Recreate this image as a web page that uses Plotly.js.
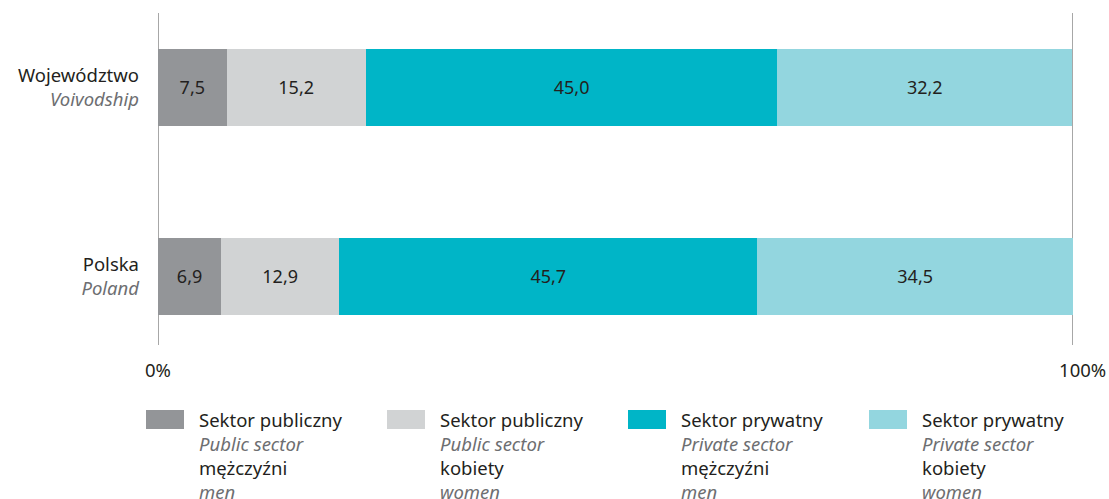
<!DOCTYPE html>
<html>
<head>
<meta charset="utf-8">
<script src="https://cdn.plot.ly/plotly-3.0.1.min.js"></script>
<style>
html,body{margin:0;padding:0;background:#fff;}
#chart{width:1109px;height:499px;}
</style>
</head>
<body>
<div id="chart"></div>
<script>
// ---- data ----
var categoriesPl = ['Polska', 'Województwo'];
var categoriesEn = ['Poland', 'Voivodship'];
var seriesPl = ['Sektor publiczny', 'Sektor publiczny', 'Sektor prywatny', 'Sektor prywatny'];
var seriesEn = ['Public sector', 'Public sector', 'Private sector', 'Private sector'];
var genderPl = ['mężczyźni', 'kobiety', 'mężczyźni', 'kobiety'];
var genderEn = ['men', 'women', 'men', 'women'];
var publicMen    = [6.9, 7.5];
var publicWomen  = [12.9, 15.2];
var privateMen   = [45.7, 45.0];
var privateWomen = [34.5, 32.2];
var xTickVals = [0, 100];
var xTickText = ['0%', '\u00a0\u00a0\u00a0\u00a0100%'];

var seriesValues = [publicMen, publicWomen, privateMen, privateWomen];
var colors = ['#939598', '#d1d3d4', '#00b5c7', '#93d6df'];
var textDark = '#231f20';
var textGrey = '#6d6e71';
var FONT = 'Noto Sans, Open Sans, sans-serif';
var FS = 18.5;

var yTickText = categoriesPl.map(function (c, i) {
  return c + '<br><i><span style="color:' + textGrey + '">' + categoriesEn[i] + '</span></i>';
});

var traces = seriesValues.map(function (vals, i) {
  return {
    type: 'bar',
    orientation: 'h',
    y: categoriesPl,
    x: vals,
    name: seriesPl[i] + ' ' + genderPl[i],
    marker: {color: colors[i], line: {width: 0}},
    width: 0.407,
    texttemplate: '%{x:.1f}',
    textposition: 'inside',
    insidetextanchor: 'middle',
    textfont: {family: FONT, size: 18, color: textDark},
    hoverinfo: 'skip',
    showlegend: false
  };
});

// plot area in pixels
var W = 1109, H = 499;
var L = 158, R = 1073, T = 13, B = 345;
function px(x) { return (x - L) / (R - L); }
function py(y) { return (B - y) / (B - T); }

var shapes = [], annotations = [];
// boundary lines at 0% and 100%
xTickVals.forEach(function (v) {
  shapes.push({
    type: 'line', xref: 'x', yref: 'paper', x0: v, x1: v, y0: 0, y1: 1,
    line: {color: '#8a8a8a', width: 1.5}, layer: 'below'
  });
});
var legendX0 = 146, legendStep = 241;
seriesPl.forEach(function (s, i) {
  var x0 = legendX0 + i * legendStep;
  shapes.push({
    type: 'rect', xref: 'paper', yref: 'paper',
    x0: px(x0), x1: px(x0 + 38), y0: py(410), y1: py(429),
    fillcolor: colors[i], line: {width: 0}, layer: 'above'
  });
  annotations.push({
    xref: 'paper', yref: 'paper', x: px(x0 + 51), y: py(405),
    xanchor: 'left', yanchor: 'top', align: 'left', showarrow: false,
    font: {family: FONT, size: FS, color: textDark},
    text: s + '<br><i><span style="color:' + textGrey + '">' + seriesEn[i] + '</span></i><br>' +
          genderPl[i] + '<br><i><span style="color:' + textGrey + '">' + genderEn[i] + '</span></i>'
  });
});

var layout = {
  width: W, height: H,
  margin: {l: L, r: W - R, t: T, b: H - B, pad: 0},
  barmode: 'stack',
  separators: ', ',
  paper_bgcolor: '#ffffff',
  plot_bgcolor: '#ffffff',
  font: {family: FONT, size: FS, color: textDark},
  xaxis: {
    range: [0, 100],
    tickvals: xTickVals,
    ticktext: xTickText,
    showgrid: false,
    zeroline: false,
    showline: false,
    ticks: '',
    ticklabelstandoff: 12,
    tickfont: {family: FONT, size: FS, color: textDark},
    fixedrange: true
  },
  yaxis: {
    type: 'category',
    categoryorder: 'array',
    categoryarray: categoriesPl,
    range: [-0.363, 1.394],
    tickvals: categoriesPl,
    ticktext: yTickText,
    showgrid: false,
    zeroline: false,
    showline: false,
    ticks: '',
    ticklabelstandoff: 18,
    tickfont: {family: FONT, size: FS, color: textDark},
    fixedrange: true
  },
  shapes: shapes,
  annotations: annotations,
  showlegend: false
};

Plotly.newPlot('chart', traces, layout, {displayModeBar: false, staticPlot: true});
</script>
</body>
</html>
